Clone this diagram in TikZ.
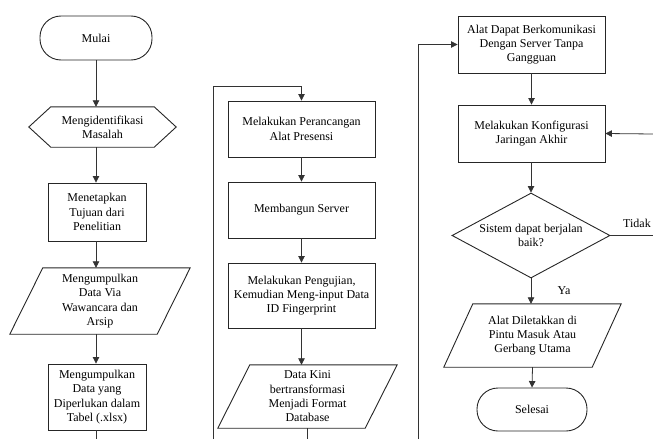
\documentclass[tikz,border=0pt]{standalone}
\usepackage{fontspec}
\setmainfont{Liberation Serif}
\usetikzlibrary{arrows.meta,calc,shapes.geometric}
\begin{document}
\begin{tikzpicture}[x=1pt,y=-1pt,
  font=\fontsize{12}{14.3}\selectfont,
  shp/.style={draw=black!85,line width=0.9pt},
  pbox/.style 2 args={rectangle,shp,minimum width=#1,minimum height=#2,align=center,inner sep=0pt},
  term/.style 2 args={rectangle,shp,rounded corners=21pt,minimum width=#1,minimum height=#2,align=center,inner sep=0pt},
  ghost/.style 2 args={rectangle,minimum width=#1,minimum height=#2,align=center,inner sep=0pt},
  con/.style={draw=black!80,line width=0.8pt},
  arr/.style={con,-{Triangle[length=6.5pt,width=6.5pt]}},
  lbl/.style={inner sep=0pt}
]
\useasboundingbox (0,0) rectangle (653,439);

% column 1
\node[term={112pt}{44pt}] (mulai) at (96,38) {Mulai};
\node[ghost={103pt}{40pt}] (hex) at (102.5,127) {Mengidentifikasi\\Masalah};
\draw[shp] (hex.north west) -- (hex.north east) -- ([xshift=22pt]hex.east) -- (hex.south east) -- (hex.south west) -- ([xshift=-22pt]hex.west) -- cycle;
\node[pbox={98pt}{58pt}] (b1) at (97,212) {Menetapkan\\Tujuan dari\\Penelitian};
\node[ghost={147pt}{66pt}] (p1) at (100,301) {Mengumpulkan\\Data Via\\Wawancara dan\\Arsip};
\draw[shp] ([xshift=16.5pt]p1.north west) -- ([xshift=16.5pt]p1.north east) -- ([xshift=-16.5pt]p1.south east) -- ([xshift=-16.5pt]p1.south west) -- cycle;
\node[pbox={98pt}{66pt}] (b2) at (97,397) {Mengumpulkan\\Data yang\\Diperlukan dalam\\Tabel (.xlsx)};
\coordinate (c1) at (96,439);

% column 2
\node[pbox={147pt}{56pt}] (b3) at (301.5,129) {Melakukan Perancangan\\Alat Presensi};
\node[pbox={147pt}{56pt}] (b4) at (301.5,210) {Membangun Server};
\node[pbox={147pt}{65pt}] (b5) at (301.5,295.5) {Melakukan Pengujian,\\Kemudian Meng-input Data\\ID Fingerprint};
\node[ghost={147pt}{63pt}] (p2) at (307.5,396.5) {Data Kini\\bertransformasi\\Menjadi Format\\Database};
\draw[shp] ([xshift=16pt]p2.north west) -- ([xshift=16pt]p2.north east) -- ([xshift=-16pt]p2.south east) -- ([xshift=-16pt]p2.south west) -- cycle;
\coordinate (c2b) at (213,439);
\coordinate (c2t) at (213,86);

% column 3
\node[pbox={147pt}{57pt}] (b6) at (531.5,44.5) {Alat Dapat Berkomunikasi\\Dengan Server Tanpa\\Gangguan};
\node[pbox={147pt}{57pt}] (b7) at (531.5,133.5) {Melakukan Konfigurasi\\Jaringan Akhir};
\node[diamond,shp,minimum width=158pt,minimum height=85pt,inner sep=0pt] (dia) at (531,235.5) {};
\node[align=center,inner sep=0pt] (diat) at (dia.center) {Sistem dapat berjalan\\baik?};
\node[ghost={148pt}{63pt}] (p3) at (532.5,335.5) {Alat Diletakkan di\\Pintu Masuk Atau\\Gerbang Utama};
\draw[shp] ([xshift=14.5pt]p3.north west) -- ([xshift=14.5pt]p3.north east) -- ([xshift=-14.5pt]p3.south east) -- ([xshift=-14.5pt]p3.south west) -- cycle;
\node[term={110pt}{43pt}] (selesai) at (532,409.5) {Selesai};
\coordinate (c3b) at (418,439);
\coordinate (c3r) at (653,134);

% connectors column 1
\draw[arr] (mulai.south) -- (mulai.south |- hex.north);
\draw[arr] (hex.south -| mulai.south) -- (mulai.south |- b1.north);
\draw[arr] (b1.south -| mulai.south) -- (mulai.south |- p1.north);
\draw[arr] (p1.south -| mulai.south) -- (mulai.south |- b2.north);
\draw[con] (b2.south -| c1) -- (c1);

% connectors column 2
\draw[arr] (c2b) -- (c2t) -| (b3.north);
\draw[arr] (b3.south) -- (b4.north);
\draw[arr] (b4.south) -- (b5.north);
\draw[arr] (b5.south) -- (b5.south |- p2.north);
\draw[con] (p2.south) -- (p2.south |- c2b);

% connectors column 3
\draw[arr] (c3b) |- (b6.west);
\draw[arr] (b6.south) -- (b7.north);
\draw[arr] (c3r) -- (b7.east);
\draw[arr] (b7.south -| dia.north) -- (dia.north);
\draw[con] (dia.east) -- (dia.east -| c3r);
\node[lbl] (tidak) at (637,223) {Tidak};
\draw[arr] (dia.south) -- (dia.south |- p3.north);
\node[lbl] (ya) at (564,291) {Ya};
\draw[arr] (p3.south) -- (selesai.north);
\end{tikzpicture}
\end{document}
